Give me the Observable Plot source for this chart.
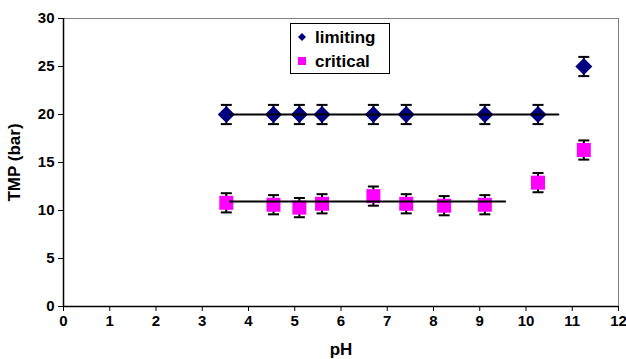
<!DOCTYPE html>
<html><head><meta charset="utf-8">
<script src="https://cdn.jsdelivr.net/npm/d3@7"></script>
<script src="https://cdn.jsdelivr.net/npm/@observablehq/plot@0.6"></script>
<style>
body{margin:0;background:#fff}
g[aria-label="x-axis tick label"] text, g[aria-label="y-axis tick label"] text {
  font-size: 15px !important; font-weight: bold !important;
  font-family: 'Liberation Sans', Arial, sans-serif !important;
}
</style>
</head><body><div id="chart"></div>
<script>
// Data
const limitingPH  = [3.52, 4.54, 5.10, 5.59, 6.70, 7.41, 9.11, 10.26, 11.25];
const limitingTMP = [20, 20, 20, 20, 20, 20, 20, 20, 25];
const limitingErr = [1, 1, 1, 1, 1, 1, 1, 1, 1];
const criticalPH  = [3.52, 4.54, 5.10, 5.59, 6.70, 7.41, 8.23, 9.11, 10.26, 11.25];
const criticalTMP = [10.8, 10.6, 10.3, 10.7, 11.5, 10.7, 10.5, 10.6, 12.9, 16.3];
const criticalErr = [1, 1, 1, 1, 1, 1, 1, 1, 1, 1];
const limitingFitPH  = [3.6, 10.7];
const limitingFitTMP = [20, 20];
const criticalFitPH  = [3.6, 9.55];
const criticalFitTMP = [10.95, 10.95];
const xTicks = [0,1,2,3,4,5,6,7,8,9,10,11,12];
const yTicks = [0,5,10,15,20,25,30];
const seriesNames = ["limiting", "critical"];
const seriesColors = ["#000080", "#FF00FF"];

const limiting = limitingPH.map((x,i)=>({x, y: limitingTMP[i], e: limitingErr[i]}));
const critical = criticalPH.map((x,i)=>({x, y: criticalTMP[i], e: criticalErr[i]}));
const limFit = limitingFitPH.map((x,i)=>({x, y: limitingFitTMP[i]}));
const critFit = criticalFitPH.map((x,i)=>({x, y: criticalFitTMP[i]}));
const both = [...limiting, ...critical];

const cap = {draw(ctx){ ctx.moveTo(-5.5,0); ctx.lineTo(5.5,0); }};
const FONT = "'Liberation Sans', Arial, sans-serif";
const axisCommon = {textStroke: "none", fontWeight: "bold", tickFormat: d=>d};

const plot = Plot.plot({
  width: 626, height: 359,
  marginLeft: 63, marginRight: 8, marginTop: 18, marginBottom: 53,
  style: {fontFamily: FONT, fontWeight: "bold", color: "#000", background: "#fff"},
  x: {domain: [0, 12]},
  y: {domain: [0, 30]},
  marks: [
    Plot.frame({stroke: "#808080", strokeWidth: 1}),
    Plot.axisX({...axisCommon, ticks: xTicks, tickSize: 5, tickPadding: 4, fontSize: 15, label: null}),
    Plot.axisX({...axisCommon, ticks: [], label: "pH", labelAnchor: "center", labelArrow: "none", labelOffset: 48, fontSize: 17}),
    Plot.axisY({...axisCommon, ticks: yTicks, tickSize: 5, tickPadding: 4, fontSize: 15, label: null}),
    Plot.axisY({...axisCommon, ticks: [], label: "TMP (bar)", labelAnchor: "center", labelArrow: "none", labelOffset: 56, fontSize: 17}),
    Plot.ruleX([0], {stroke: "#000", strokeWidth: 1.5}),
    Plot.ruleY([0], {stroke: "#000", strokeWidth: 1.5}),
    Plot.ruleX(both, {x: "x", y1: d=>d.y-d.e, y2: d=>d.y+d.e, stroke: "#000", strokeWidth: 2}),
    Plot.dot(both, {x: "x", y: d=>d.y+d.e, symbol: cap, stroke: "#000", fill: "none", strokeWidth: 2}),
    Plot.dot(both, {x: "x", y: d=>d.y-d.e, symbol: cap, stroke: "#000", fill: "none", strokeWidth: 2}),
    Plot.dot(limiting, {x: "x", y: "y", symbol: "square", rotate: 45, r: 6.8, fill: seriesColors[0], stroke: "none"}),
    Plot.dot(critical, {x: "x", y: "y", symbol: "square", r: 7.9, fill: seriesColors[1], stroke: "none"}),
    Plot.line(limFit, {x: "x", y: "y", stroke: "#000", strokeWidth: 2}),
    Plot.line(critFit, {x: "x", y: "y", stroke: "#000", strokeWidth: 2})
  ]
});
document.getElementById("chart").appendChild(plot);

// Legend
const svg = d3.select(plot);
const lg = svg.append("g").attr("font-family", FONT).attr("font-weight", "bold").attr("font-size", 17).attr("text-anchor", "start");
lg.append("rect").attr("x", 290.5).attr("y", 23.5).attr("width", 99).attr("height", 50)
  .attr("fill", "#fff").attr("stroke", "#000").attr("stroke-width", 1);
lg.append("path").attr("d", d3.symbol(d3.symbolSquare, 32)()).attr("transform", "translate(302,37) rotate(45)").attr("fill", seriesColors[0]);
lg.append("path").attr("d", d3.symbol(d3.symbolSquare, 64)()).attr("transform", "translate(302,61)").attr("fill", seriesColors[1]);
lg.append("text").attr("x", 315).attr("y", 43).attr("fill", "#000").text(seriesNames[0]);
lg.append("text").attr("x", 315).attr("y", 67).attr("fill", "#000").text(seriesNames[1]);
</script>
</body></html>
